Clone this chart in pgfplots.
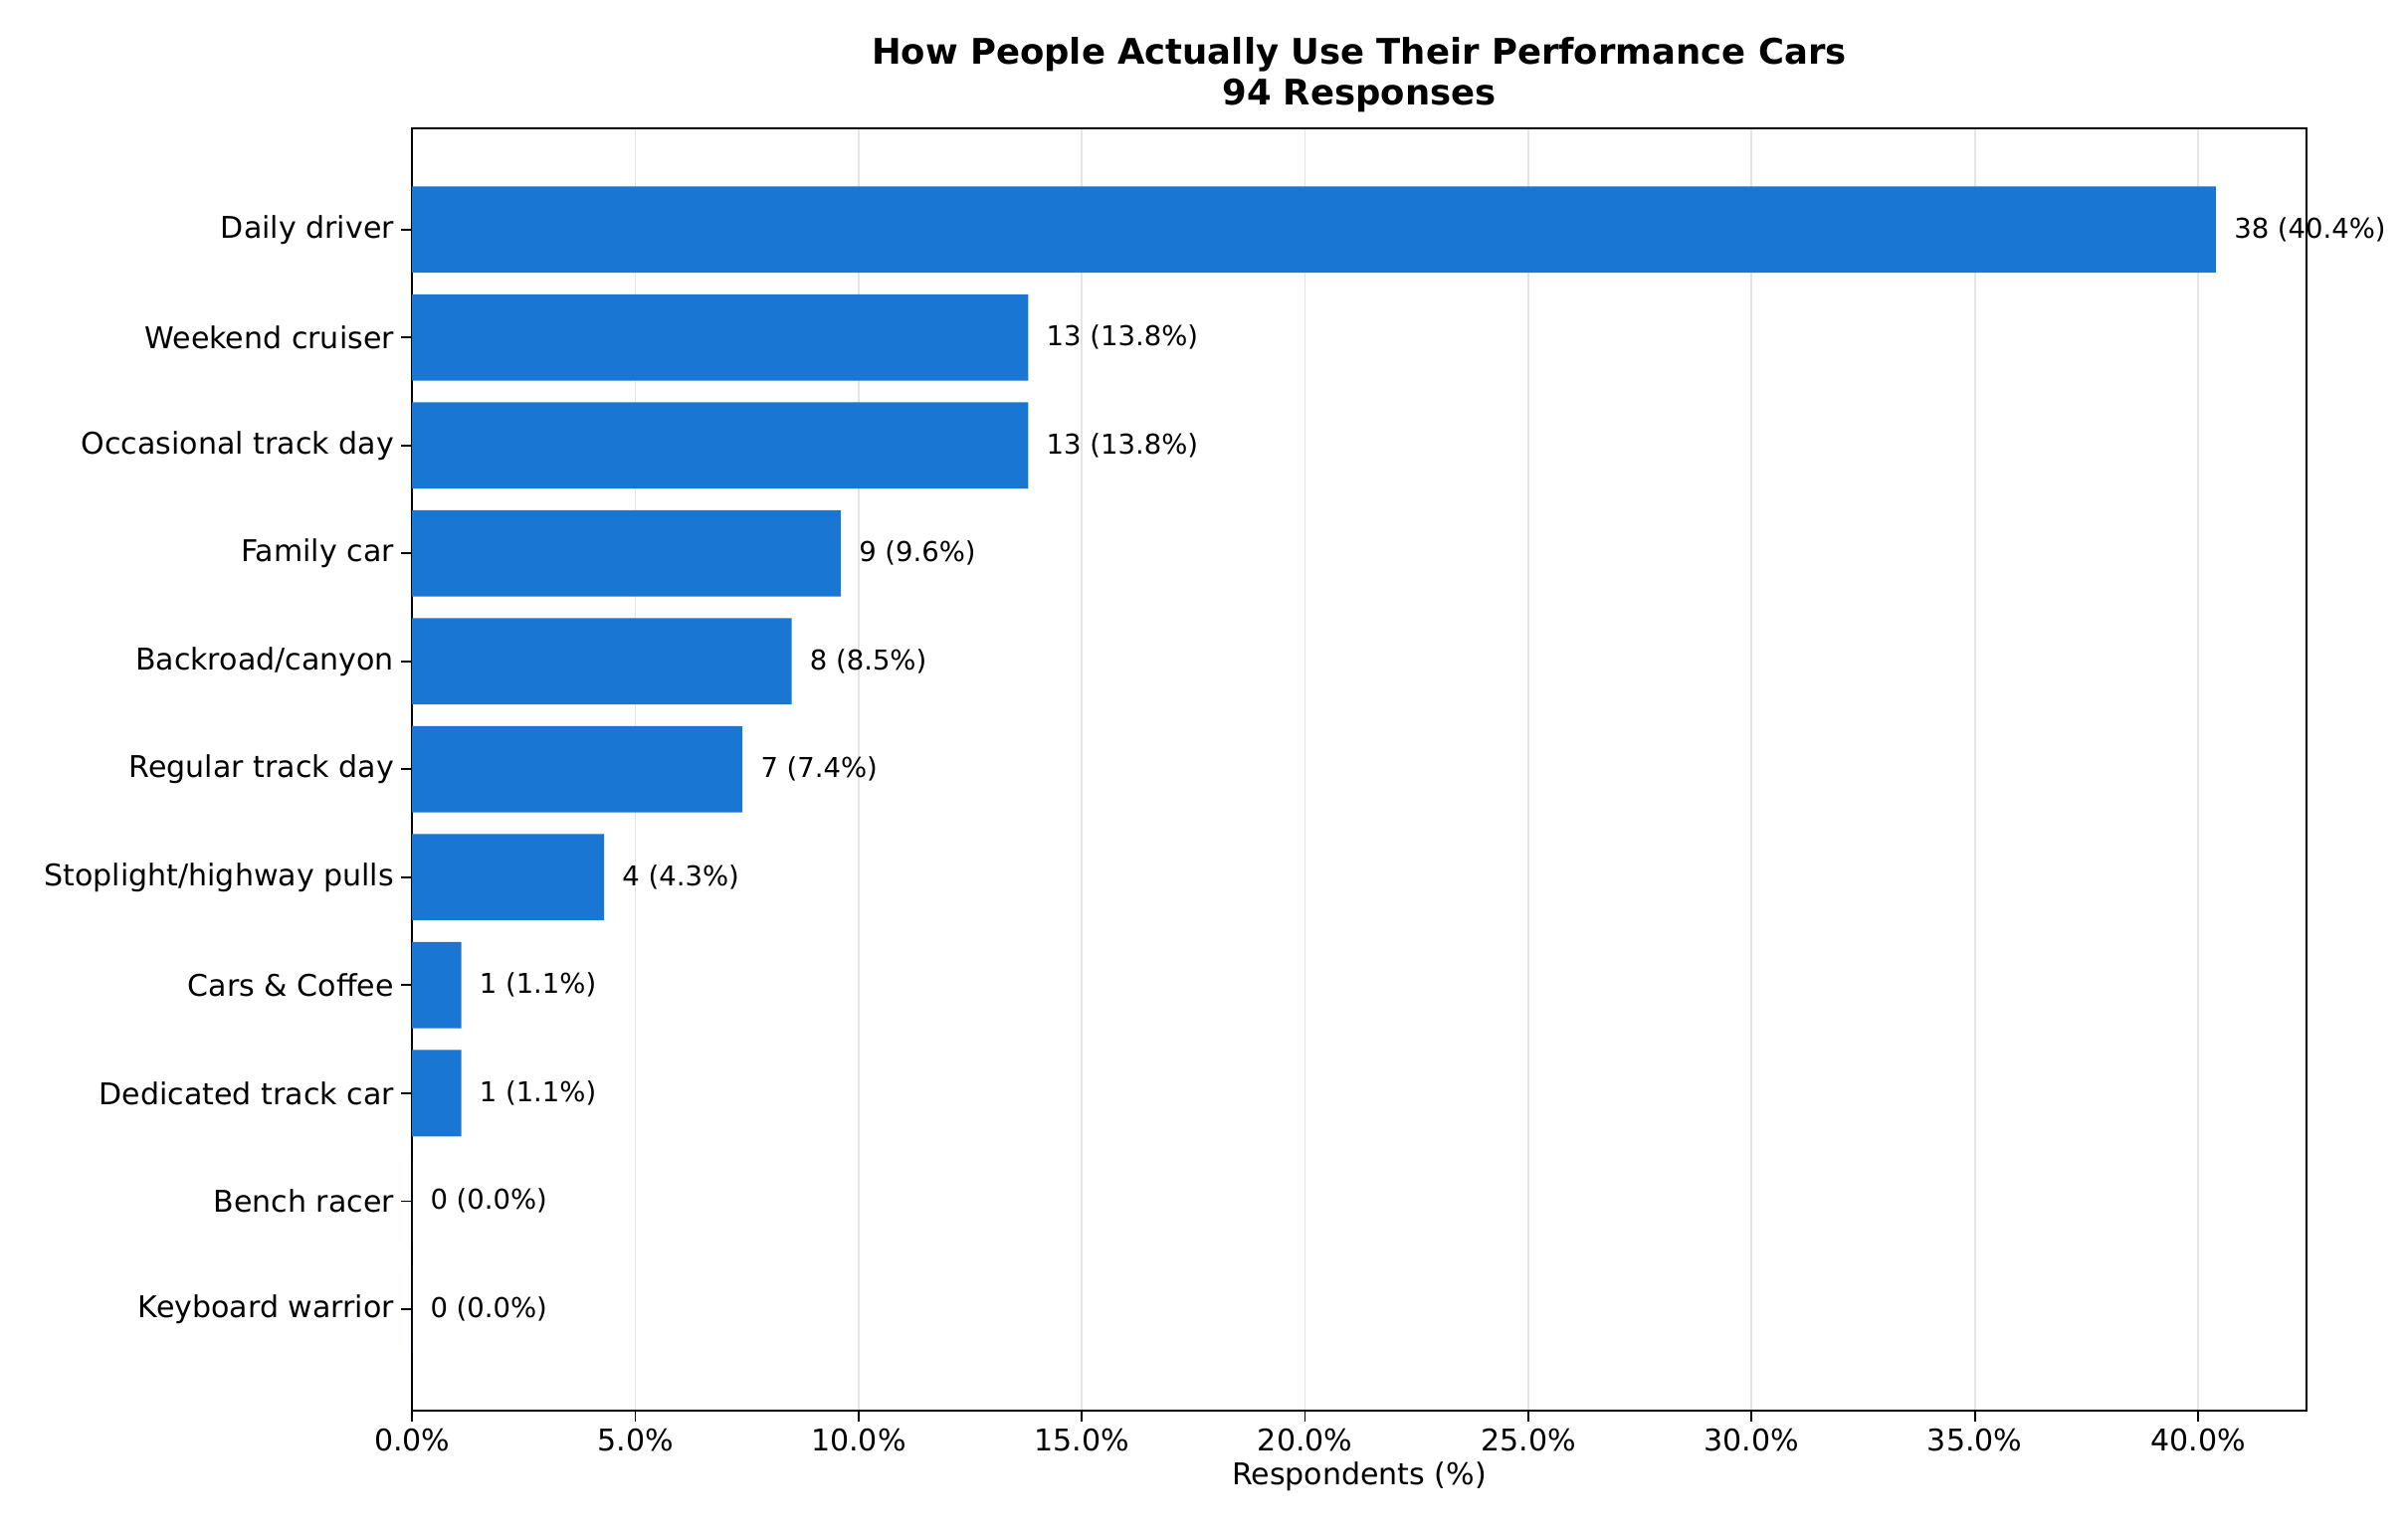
\documentclass[border=0pt]{standalone}
\usepackage{pgfplots}
\pgfplotsset{compat=1.18}
\usepackage{pgfplotstable}
\usepackage{fontspec}
\setmainfont{DejaVu Sans}
\definecolor{barblue}{HTML}{1976D2}
\pgfplotstableread[col sep=comma]{
y,v,lab
10,40.4,38 (40.4\%)
9,13.8,13 (13.8\%)
8,13.8,13 (13.8\%)
7,9.6,9 (9.6\%)
6,8.5,8 (8.5\%)
5,7.4,7 (7.4\%)
4,4.3,4 (4.3\%)
3,1.1,1 (1.1\%)
2,1.1,1 (1.1\%)
1,0,0 (0.0\%)
0,0,0 (0.0\%)
}\data
\begin{document}
\begin{tikzpicture}
\begin{axis}[
  at={(0,0)}, anchor=south west,
  scale only axis, width=12.27in, height=8.31in,
  xmin=0, xmax=42.42, ymin=-0.94, ymax=10.94,
  xtick distance=5,
  xticklabel={\pgfmathprintnumber[fixed,fixed zerofill,precision=1]{\tick}\%},
  /pgf/number format/assume math mode=true,
  ytick={0,...,10},
  yticklabels={Keyboard warrior,Bench racer,Dedicated track car,Cars \& Coffee,Stoplight/highway pulls,Regular track day,Backroad/canyon,Family car,Occasional track day,Weekend cruiser,Daily driver},
  tick align=outside, tick pos=left, major tick length=5pt,
  tick style={black, line width=0.8pt},
  xmajorgrids, grid style={gray!20, line width=0.8pt},
  axis line style={line width=1pt},
  ticklabel style={font=\fontsize{14}{16}\selectfont},
  xlabel={Respondents (\%)}, xlabel style={font=\fontsize{14}{16}\selectfont, yshift=2pt},
  title={\textbf{How People Actually Use Their Performance Cars}\\\textbf{94 Responses}},
  title style={font=\fontsize{16.5}{19}\selectfont, align=center, yshift=-2pt},
  set layers,
]
\addplot[xbar, bar width=0.8, fill=barblue, draw=none,
  nodes near coords, point meta=explicit symbolic,
  every node near coord/.append style={font=\fontsize{12.8}{15}\selectfont, black, anchor=west, xshift=5pt}]
  table[x=v, y=y, meta=lab]{\data};
\end{axis}
\pgfresetboundingbox
\path (-2.67in,-0.79in) rectangle (12.93in,9.14in);
\end{tikzpicture}
\end{document}
